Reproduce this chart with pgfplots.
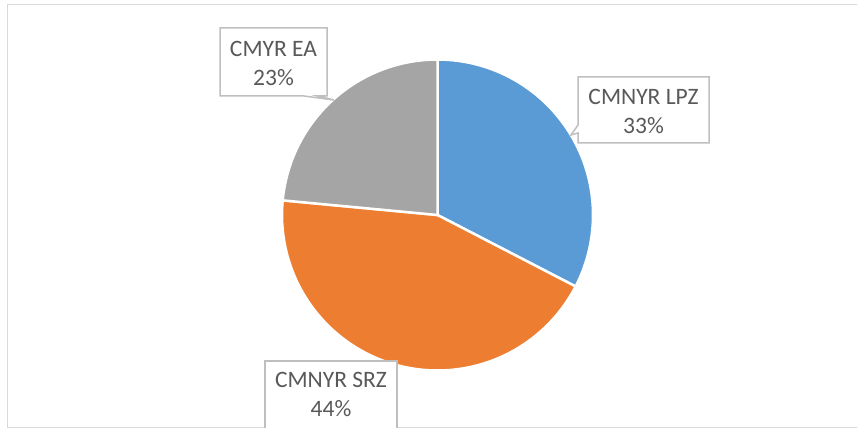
\documentclass[border=0pt]{standalone}
\usepackage{pgfplots}
\usepackage{pgfplotstable}
\pgfplotsset{compat=1.18}
\usepackage{fontspec}
\setmainfont{Carlito}
\definecolor{pieblue}{HTML}{5B9BD5}
\definecolor{pieorange}{HTML}{ED7D31}
\definecolor{piegray}{HTML}{A5A5A5}
\definecolor{lbltext}{HTML}{595959}
\definecolor{lblframe}{HTML}{BFBFBF}
\definecolor{chartframe}{HTML}{D9D9D9}

\pgfplotstableread{
label value
LPZ 32.6
SRZ 43.9
EA 23.5
}\piedata

\begin{document}
\begin{tikzpicture}
\pgfplotstablegetelem{0}{value}\of\piedata \let\vA\pgfplotsretval
\pgfplotstablegetelem{1}{value}\of\piedata \let\vB\pgfplotsretval
\pgfplotstablegetelem{2}{value}\of\piedata \let\vC\pgfplotsretval
\pgfmathsetmacro\aA{90}
\pgfmathsetmacro\aB{90-3.6*\vA}
\pgfmathsetmacro\aC{\aB-3.6*\vB}
\pgfmathsetmacro\aD{\aC-3.6*\vC}
\path[use as bounding box] (0,0) rectangle (857bp,428bp);
\clip (0,0) rectangle (857bp,428bp);
\begin{axis}[
  x=1bp, y=1bp, scale only axis,
  xmin=-437.5, xmax=419.5, ymin=-213, ymax=215,
  at={(0,0)}, anchor=south west,
  hide axis, clip=false,
]
\addplot[fill=pieblue, draw=white, line width=2.5bp, data cs=polar, domain=\aB:\aA, samples=120, variable=\t] (\t,155.5) -- (axis cs:0,0) -- cycle;
\addplot[fill=pieorange, draw=white, line width=2.5bp, data cs=polar, domain=\aC:\aB, samples=160, variable=\t] (\t,155.5) -- (axis cs:0,0) -- cycle;
\addplot[fill=piegray, draw=white, line width=2.5bp, data cs=polar, domain=\aD:\aC, samples=100, variable=\t] (\t,155.5) -- (axis cs:0,0) -- cycle;
\end{axis}
\begin{scope}[x=1bp, y=-1bp, shift={(0bp,428bp)}]
\draw[chartframe, line width=1bp] (7.5,4.5) rectangle (860,427.5);
\begin{scope}[font=\fontsize{23.6}{29}\selectfont, text=lbltext]
\filldraw[fill=white, draw=lblframe, line width=1.5bp, line join=miter]
  (220,28) -- (327,28) -- (327,96) -- (318,96) -- (334,100) -- (304,96) -- (220,96) -- cycle;
\node[anchor=base, inner sep=0pt] at (273.5,57) {CMYR EA};
\node[anchor=base, inner sep=0pt] at (273.5,86) {23\%};
\filldraw[fill=white, draw=lblframe, line width=1.5bp, line join=miter]
  (578,77) -- (709,77) -- (709,143) -- (578,143) -- (578,133) -- (571,135) -- (578,125) -- cycle;
\node[anchor=base, inner sep=0pt] at (643.5,105) {CMNYR LPZ};
\node[anchor=base, inner sep=0pt] at (643.5,134) {33\%};
\filldraw[fill=white, draw=lblframe, line width=1.5bp, line join=miter]
  (265,361) -- (397,361) -- (397,440) -- (265,440) -- cycle;
\node[anchor=base, inner sep=0pt] at (331,388) {CMNYR SRZ};
\node[anchor=base, inner sep=0pt] at (331,417) {44\%};
\end{scope}
\end{scope}
\end{tikzpicture}
\end{document}
